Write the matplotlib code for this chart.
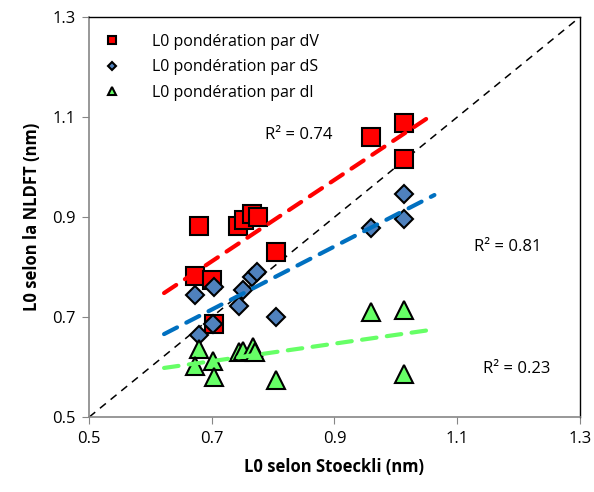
import numpy as np
import matplotlib.pyplot as plt

plt.rcParams['font.family'] = ['Open Sans', 'DejaVu Sans']

# L0 selon Stoeckli (x) et selon NLDFT (y), en nm
x_dV = [0.679, 0.672, 0.701, 0.704, 0.743, 0.753, 0.766, 0.775, 0.805, 0.960, 1.013, 1.013]
y_dV = [0.882, 0.783, 0.774, 0.686, 0.882, 0.895, 0.906, 0.900, 0.830, 1.061, 1.089, 1.016]

x_dS = [0.672, 0.704, 0.702, 0.679, 0.744, 0.751, 0.765, 0.773, 0.805, 1.013, 1.013, 0.959]
y_dS = [0.744, 0.760, 0.687, 0.664, 0.723, 0.754, 0.781, 0.790, 0.701, 0.946, 0.897, 0.879]

x_dl = [0.679, 0.672, 0.702, 0.704, 0.745, 0.751, 0.767, 0.771, 0.805, 0.960, 1.013, 1.013]
y_dl = [0.636, 0.602, 0.612, 0.580, 0.630, 0.632, 0.640, 0.630, 0.574, 0.711, 0.715, 0.586]

labels = ['L0 pondération par dV', 'L0 pondération par dS', 'L0 pondération par dl']
r2_texts = ['R² = 0.74', 'R² = 0.81', 'R² = 0.23']
ticks = [0.5, 0.7, 0.9, 1.1, 1.3]

fig = plt.figure(figsize=(5.94, 4.92), dpi=100)
ax = fig.add_axes([0.1503, 0.1525, 0.8256, 0.8124])

# diagonale y = x
ax.plot([0.5, 1.3], [0.5, 1.3], color='black', lw=1.1, ls=(0, (5, 4)), zorder=2)

ax.plot(x_dV, y_dV, 's', ms=12.5, mfc='#FF0000', mec='black', mew=1.5, label=labels[0], zorder=3)
ax.plot(x_dS, y_dS, 'D', ms=9, mfc='#4F81BD', mec='black', mew=1.5, label=labels[1], zorder=4)
ax.plot(x_dl, y_dl, '^', ms=12.5, mfc='#66FF66', mec='black', mew=1.5, label=labels[2], zorder=5)

# courbes de tendance (régression linéaire, prolongées de 0.05)
for xs, ys, c in [(x_dV, y_dV, '#FF0000'), (x_dS, y_dS, '#0070C0'), (x_dl, y_dl, '#66FF66')]:
    p = np.polyfit(xs, ys, 1)
    xx = np.array([min(xs) - 0.05, max(xs) + 0.05])
    ax.plot(xx, np.polyval(p, xx), color=c, lw=3, ls=(0, (3.5, 2.5)), dash_capstyle='round',
            solid_capstyle='round', zorder=6)

ax.text(0.841, 1.064, r2_texts[0], fontsize=12, ha='center', va='center')
ax.text(1.182, 0.840, r2_texts[1], fontsize=12, ha='center', va='center')
ax.text(1.198, 0.596, r2_texts[2], fontsize=12, ha='center', va='center')

ax.set_xlim(0.5, 1.3)
ax.set_ylim(0.5, 1.3)
ax.set_xticks(ticks)
ax.set_yticks(ticks)
ax.set_xticklabels([str(t) for t in ticks])
ax.set_yticklabels([str(t) for t in ticks])
ax.tick_params(direction='out', length=5, color='#868686', labelsize=12, pad=5)

for s in ['left', 'bottom']:
    ax.spines[s].set_color('#868686')
    ax.spines[s].set_linewidth(1.2)
for s in ['top', 'right']:
    ax.spines[s].set_color('black')
    ax.spines[s].set_linewidth(1.0)

ax.set_xlabel('L0 selon Stoeckli (nm)', fontsize=12, fontweight='bold', labelpad=8)
ax.set_ylabel('L0 selon la NLDFT (nm)', fontsize=12, fontweight='bold', labelpad=8)

ax.legend(loc='upper left', frameon=False, fontsize=11.5, markerscale=0.5,
          handletextpad=1.5, borderaxespad=0.0, labelspacing=0.6,
          bbox_to_anchor=(0.0, 0.975))

plt.savefig('out.png', dpi=100)
